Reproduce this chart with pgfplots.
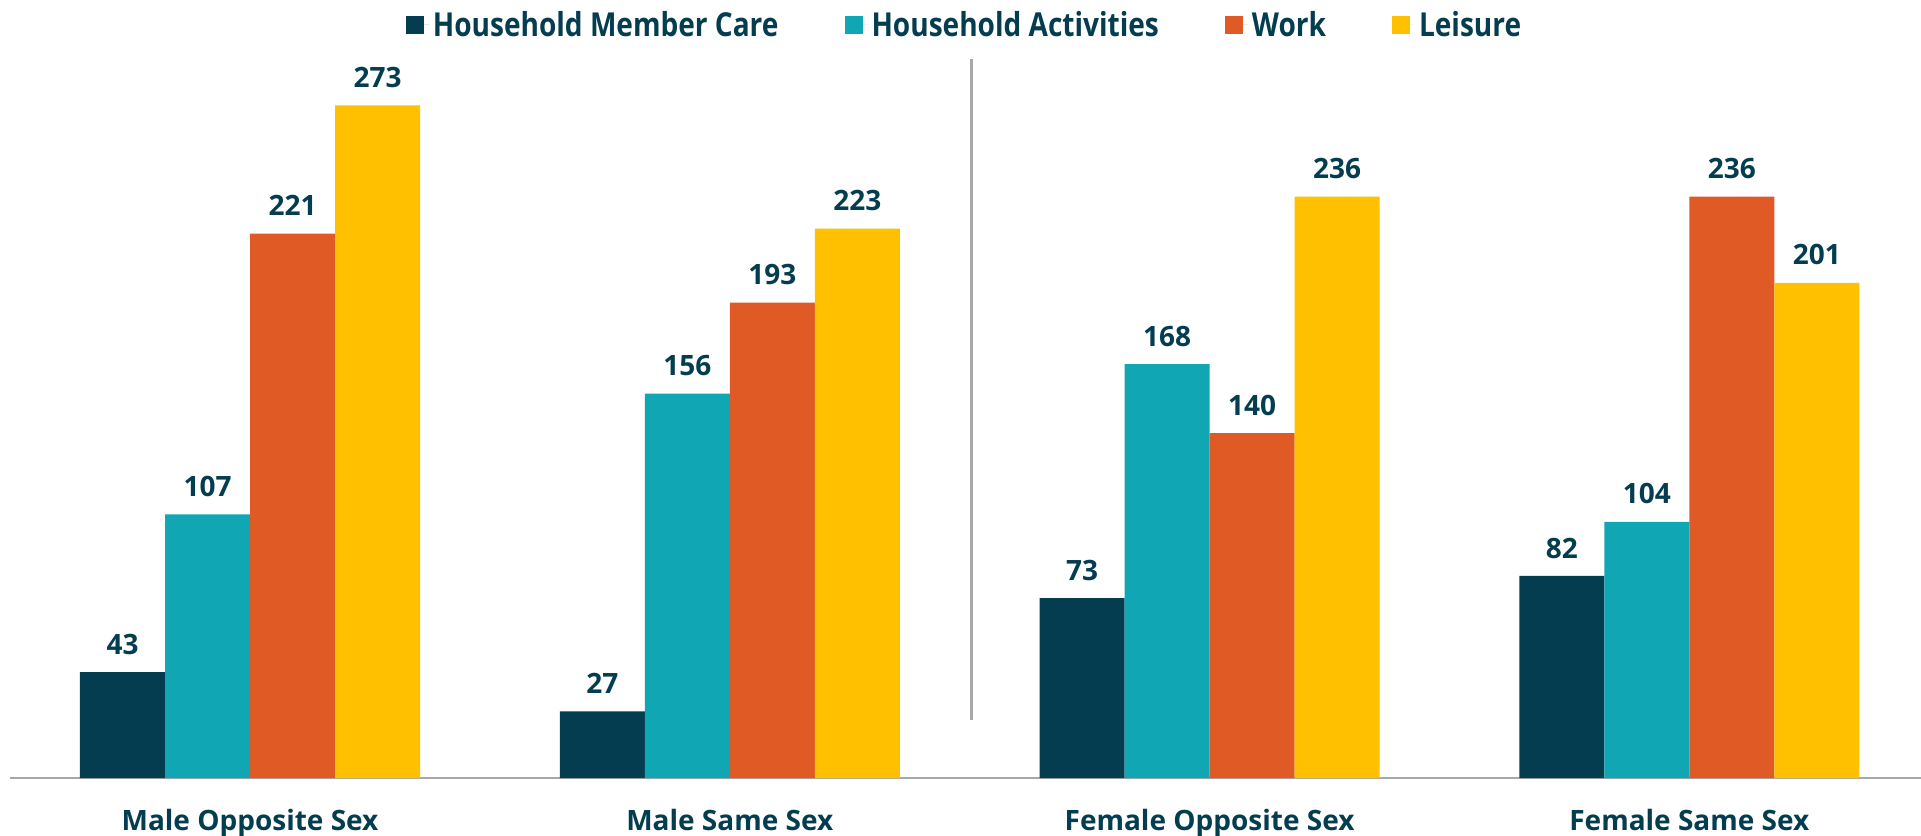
\documentclass[border=0pt]{standalone}
\usepackage{pgfplots}
\pgfplotsset{compat=1.18}
\usepackage{fontspec}
\setmainfont{Open Sans}
\newfontfamily\legfont[FakeStretch=0.85]{Open Sans}
\usetikzlibrary{calc}
\definecolor{navy}{HTML}{033D4F}
\definecolor{teal2}{HTML}{11A6B4}
\definecolor{orange2}{HTML}{E05A26}
\definecolor{gold}{HTML}{FFC000}
\definecolor{axgray}{HTML}{A8A8A8}
\newcommand{\lblfont}{\fontsize{14}{16}\selectfont\bfseries}
\newcommand{\legendfont}{\legfont\fontsize{16.5}{19}\selectfont\bfseries}
\pgfplotsset{
  mybar/.style={ybar, bar width=0.1772, bar shift=0pt, draw=none, fill=#1,
    nodes near coords,
    every node near coord/.append style={font=\lblfont, text=navy, anchor=south, yshift=5.3pt},
    legend image code/.code={\fill[#1] (0pt,-4.5pt) rectangle (9pt,4.5pt); \path (9pt,0pt) -- (11.5pt,0pt);}},
}
\begin{document}
\begin{tikzpicture}
\begin{axis}[name=ax,
  width=955.5pt, height=389pt, scale only axis,
  xmin=-0.5003, xmax=3.483, ymin=0, ymax=315.8,
  axis x line*=bottom, axis y line=none,
  x axis line style={axgray, line width=1pt, -},
  xtick={0,1,2,3},
  xticklabels={Male Opposite Sex, Male Same Sex, Female Opposite Sex, Female Same Sex},
  xticklabel style={font=\lblfont, text=navy, yshift=-12.3pt},
  major tick length=0pt,
  ytick=\empty,
  clip=false,
  /pgf/number format/assume math mode=true,
  legend columns=4,
  legend style={at={(0.5,1)}, anchor=center, yshift=-12.5pt, draw=none, fill=none, font=\legendfont, text=navy,
    /tikz/every even column/.append style={column sep=31pt}},
]
\addplot[mybar=navy] coordinates {(-0.2658,43) (0.7342,27) (1.7342,73) (2.7342,82)};
\addlegendentry{Household Member Care}
\addplot[mybar=teal2] coordinates {(-0.0886,107) (0.9114,156) (1.9114,168) (2.9114,104)};
\addlegendentry{Household Activities}
\addplot[mybar=orange2] coordinates {(0.0886,221) (1.0886,193) (2.0886,140) (3.0886,236)};
\addlegendentry{Work}
\addplot[mybar=gold] coordinates {(0.2658,273) (1.2658,223) (2.2658,236) (3.2658,201)};
\addlegendentry{Leisure}
\draw[axgray, line width=1.5pt] (axis cs:1.503,23.5) -- (axis cs:1.503,291.8);
\end{axis}
\pgfresetboundingbox
\path ($(ax.south west)+(-5pt,-28.5pt)$) rectangle (ax.north east);
\end{tikzpicture}
\end{document}
